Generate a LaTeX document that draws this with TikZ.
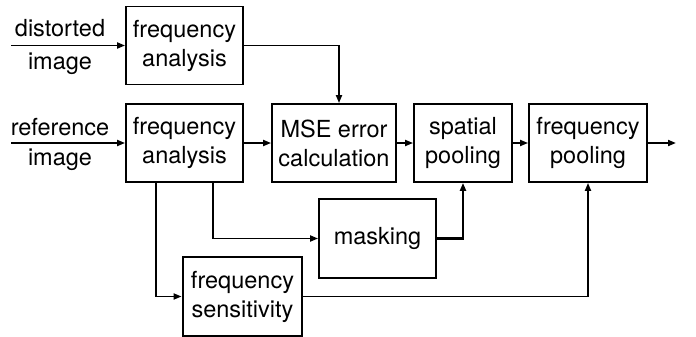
\documentclass[tikz,border=0pt]{standalone}
\usepackage{fontspec}
\setmainfont{TeX Gyre Heros}
\usetikzlibrary{arrows.meta}

\begin{document}
\begin{tikzpicture}[x=1pt, y=-1pt, line width=1.8pt,
    every node/.style={font=\fontsize{23.5}{29}\selectfont, align=center},
    block/.style={draw, inner sep=0pt, minimum height=78pt},
    heavyblock/.style={block, line width=2.8pt},
    label/.style={inner sep=0pt},
    conn/.style={-{Triangle[length=8pt,width=6pt]}},
    heavyconn/.style={conn, line width=2.8pt}]
    \useasboundingbox (0,0) rectangle (696,337);

    % blocks
    \node[block, minimum width=117pt] (FAd) at (184.5,45.5) {frequency\\analysis};
    \node[block, minimum width=117pt] (FAr) at (184.5,143) {frequency\\analysis};
    \node[block, minimum width=124pt] (MSE) at (334,143) {MSE error\\calculation};
    \node[block, minimum width=98pt] (SP) at (463,143) {spatial\\pooling};
    \node[block, minimum width=118pt] (FP) at (588,143) {frequency\\pooling};
    \node[block, minimum width=117pt, minimum height=79pt] (mask) at (377.5,238.5) {masking};
    \node[heavyblock, minimum width=119pt, minimum height=79pt] (FS) at (242.5,296.5) {frequency\\sensitivity};

    % inputs
    \node[label] (dtop) at (60,28) {distorted};
    \node[label] (dbot) at (60,64) {image};
    \node[label] (rtop) at (60,127) {reference};
    \node[label] (rbot) at (60,160) {image};
    \coordinate (din) at (11,45.5);
    \coordinate (rin) at (11,143);
    \coordinate (out) at (676,143);

    % connectors
    \draw[conn] (din) -- (FAd.west);
    \draw[conn] (rin) -- (FAr.west);
    \draw[conn] (FAd.east) -| ([xshift=5pt]MSE.north);
    \draw[conn] (FAr.east) -- (MSE.west);
    \draw[conn] (MSE.east) -- (SP.west);
    \draw[conn] (SP.east) -- (FP.west);
    \draw[conn] (FP.east) -- (out);
    \draw[conn] ([xshift=28.5pt]FAr.south) |- (mask.west);
    \draw[conn] ([xshift=-28.5pt]FAr.south) |- (FS.west);
    \draw[heavyconn] (mask.east) -| (SP.south);
    \draw[conn] (FS.east) -| (FP.south);
\end{tikzpicture}
\end{document}
